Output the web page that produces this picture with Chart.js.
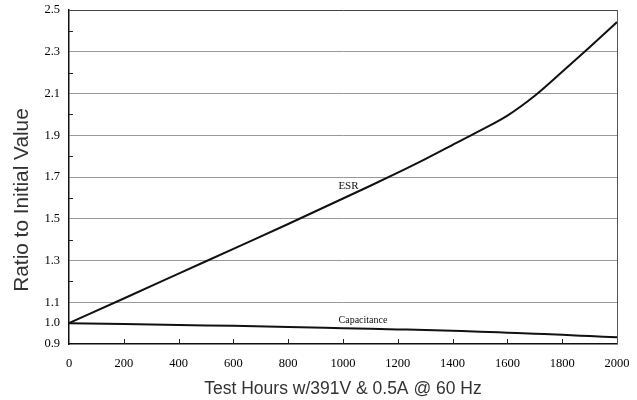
<!DOCTYPE html>
<html>
<head>
<meta charset="utf-8">
<script src="https://cdn.jsdelivr.net/npm/chart.js@4.4.1/dist/chart.umd.min.js"></script>
<style>
  html, body { margin: 0; padding: 0; background: #fff; }
  #wrap { width: 637px; height: 400px; }
</style>
</head>
<body>
<div id="wrap"><canvas id="chart" width="637" height="400"></canvas></div>
<script>
const hours = [0, 200, 400, 600, 800, 1000, 1100, 1200, 1300, 1400, 1500, 1600, 1700, 1800, 1900, 2000];
const esr = [1.0, 1.118, 1.237, 1.356, 1.475, 1.597, 1.658, 1.721, 1.786, 1.854, 1.922, 1.994, 2.089, 2.204, 2.322, 2.442];
const capacitance = [1.0, 0.996, 0.991, 0.987, 0.982, 0.976, 0.973, 0.97, 0.967, 0.963, 0.959, 0.954, 0.949, 0.944, 0.938, 0.932];
const yTicks = [0.9, 1.0, 1.1, 1.3, 1.5, 1.7, 1.9, 2.1, 2.3, 2.5];
const yMinorTicks = [1.2, 1.4, 1.6, 1.8, 2.0, 2.2, 2.4];
const xTicks = [200, 400, 600, 800, 1000, 1200, 1400, 1600, 1800];
const labels = [
  { text: "ESR", x: 1020, y: 1.655, size: 11 },
  { text: "Capacitance", x: 1073, y: 1.015, size: 10 }
];
const yTitle = "Ratio to Initial Value";

const toPoints = vals => vals.map((v, i) => ({ x: hours[i], y: v }));

// inward ticks, right frame line, y title and curve labels
const extras = {
  id: "extras",
  afterDraw(chart) {
    const { ctx, chartArea, scales } = chart;
    const x = scales.x, y = scales.y;
    ctx.save();
    ctx.strokeStyle = "#222";
    ctx.lineWidth = 1;
    ctx.beginPath();
    xTicks.forEach(v => {
      const px = Math.round(x.getPixelForValue(v)) + 0.5;
      ctx.moveTo(px, chartArea.bottom);
      ctx.lineTo(px, chartArea.bottom - 5);
    });
    yMinorTicks.forEach(v => {
      const py = Math.round(y.getPixelForValue(v)) + 0.5;
      ctx.moveTo(chartArea.left, py);
      ctx.lineTo(chartArea.left + 4, py);
    });
    ctx.stroke();

    ctx.strokeStyle = "#555";
    ctx.beginPath();
    ctx.moveTo(chartArea.right + 0.5, chartArea.top);
    ctx.lineTo(chartArea.right + 0.5, chartArea.bottom);
    ctx.stroke();

    ctx.fillStyle = "#111";
    ctx.textAlign = "center";
    ctx.textBaseline = "middle";
    labels.forEach(l => {
      ctx.font = l.size + "px 'Liberation Serif'";
      ctx.fillText(l.text, x.getPixelForValue(l.x), y.getPixelForValue(l.y));
    });

    ctx.translate(22, 200);
    ctx.rotate(-Math.PI / 2);
    ctx.fillStyle = "#333";
    ctx.font = "20.8px 'Liberation Sans'";
    ctx.fillText(yTitle, 0, 0);
    ctx.restore();
  }
};

new Chart(document.getElementById("chart"), {
  type: "line",
  data: {
    datasets: [
      { label: "ESR", data: toPoints(esr) },
      { label: "Capacitance", data: toPoints(capacitance) }
    ]
  },
  options: {
    responsive: false,
    animation: false,
    layout: { padding: { top: 10, right: 20, bottom: 0, left: 0 } },
    elements: {
      line: { borderColor: "#111", borderWidth: 2, tension: 0.4, cubicInterpolationMode: "monotone" },
      point: { radius: 0 }
    },
    plugins: { legend: { display: false }, tooltip: { enabled: false } },
    scales: {
      x: {
        type: "linear",
        min: 0,
        max: 2000,
        afterFit: s => { s.height = 56; s.paddingLeft = 0; s.paddingRight = 0; },
        ticks: {
          stepSize: 200,
          padding: 12,
          color: "#000",
          font: { family: "'Liberation Serif'", size: 12.5 },
          callback: v => String(v)
        },
        grid: { display: false, drawTicks: false },
        border: { display: true, color: "#111", width: 1.5 },
        title: {
          display: true,
          text: "Test Hours w/391V & 0.5A @ 60 Hz",
          color: "#333",
          font: { family: "'Liberation Sans'", size: 17.5 },
          padding: { top: 7, bottom: 0 }
        }
      },
      y: {
        min: 0.9,
        max: 2.5,
        afterFit: s => { s.width = 69; s.paddingTop = 0; s.paddingBottom = 0; },
        afterBuildTicks: s => { s.ticks = yTicks.map(v => ({ value: v })); },
        ticks: {
          padding: 9,
          color: "#000",
          font: { family: "'Liberation Serif'", size: 12.5 },
          callback: v => v.toFixed(1)
        },
        grid: {
          drawTicks: false,
          color: c => {
            const v = c.tick ? Math.round(c.tick.value * 10) / 10 : 0;
            if (v === 2.5) return "#444";
            if (v >= 1.1 && v <= 2.3) return "#999";
            return "rgba(0,0,0,0)";
          },
          lineWidth: 1
        },
        border: { display: true, color: "#111", width: 1.5 }
      }
    }
  },
  plugins: [extras]
});
</script>
</body>
</html>
